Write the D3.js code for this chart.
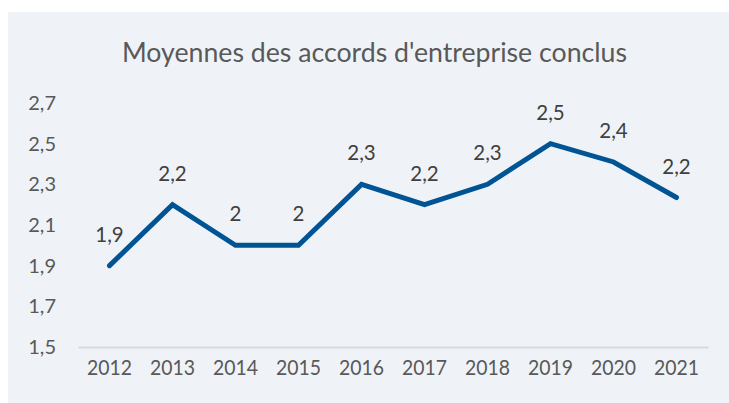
<!DOCTYPE html>
<html><head><meta charset="utf-8">
<script src="https://cdn.jsdelivr.net/npm/d3@7"></script>
<style>html,body{margin:0;padding:0;background:#fff;}svg{display:block;}</style>
</head><body>
<svg id="chart" width="729" height="403"></svg>
<script>
const title = "Moyennes des accords d'entreprise conclus";
const years = ["2012","2013","2014","2015","2016","2017","2018","2019","2020","2021"];
const values = [1.9, 2.2, 2.0, 2.0, 2.3, 2.2, 2.3, 2.5, 2.41, 2.235];
const valueLabels = ["1,9","2,2","2","2","2,3","2,2","2,3","2,5","2,4","2,2"];
const yTicks = [1.5, 1.7, 1.9, 2.1, 2.3, 2.5, 2.7];

const svg = d3.select("#chart");
const font = "Lato, 'Open Sans', sans-serif";
const textColor = "#595959";

svg.append("rect").attr("x", 8).attr("y", 12).attr("width", 721).attr("height", 391).attr("fill", "#eff3f7");

svg.append("text").attr("x", 122).attr("y", 62).attr("text-anchor", "start")
  .attr("font-family", font).attr("font-size", 27).attr("fill", textColor)
  .attr("textLength", 505).attr("lengthAdjust", "spacingAndGlyphs")
  .text(title);

const x = d3.scaleBand().domain(years).range([78, 708]);
const y = d3.scaleLinear().domain([1.5, 2.7]).range([347, 103]);

const xAxis = svg.append("g").attr("transform", "translate(0,347)")
  .call(d3.axisBottom(x).tickSize(0).tickPadding(13));
xAxis.select(".domain").attr("stroke", "#d9d9d9").attr("stroke-width", 2);
xAxis.selectAll("text").attr("font-family", font).attr("font-size", 21).attr("fill", textColor)
  .attr("textLength", 45).attr("lengthAdjust", "spacingAndGlyphs");

const yAxis = svg.append("g").attr("transform", "translate(56,0)")
  .call(d3.axisLeft(y).tickValues(yTicks).tickSize(0).tickPadding(0)
    .tickFormat(d => d3.format(".1f")(d).replace(".", ",")));
yAxis.select(".domain").remove();
yAxis.selectAll("text").attr("font-family", font).attr("font-size", 20).attr("fill", textColor);

const cx = d => x(d) + x.bandwidth() / 2;
const line = d3.line().x((d, i) => cx(years[i])).y(d => y(d));
svg.append("path").datum(values).attr("d", line)
  .attr("fill", "none").attr("stroke", "#005493").attr("stroke-width", 5)
  .attr("stroke-linejoin", "miter").attr("stroke-linecap", "round");

svg.append("g").selectAll("text").data(values).join("text")
  .attr("x", (d, i) => cx(years[i]))
  .attr("y", d => y(d) - 24)
  .attr("text-anchor", "middle")
  .attr("font-family", font).attr("font-size", 20.5).attr("fill", "#404040")
  .text((d, i) => valueLabels[i]);
</script>
</body></html>
